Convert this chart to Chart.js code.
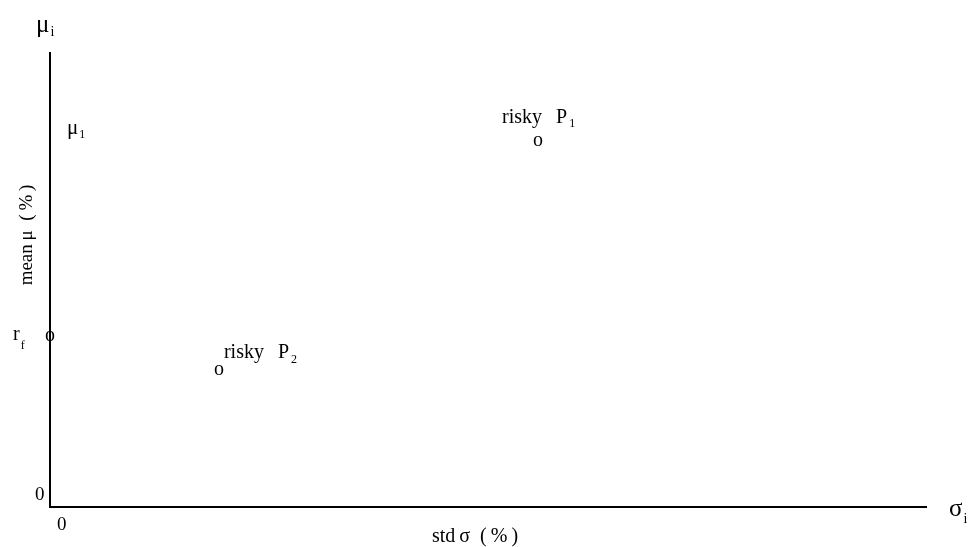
<!DOCTYPE html>
<html>
<head>
<meta charset="utf-8">
<script src="https://cdn.jsdelivr.net/npm/chart.js@4.4.0/dist/chart.umd.min.js"></script>
<style>
  html, body { margin: 0; padding: 0; background: #fff; }
  #wrap { width: 974px; height: 547px; }
</style>
</head>
<body>
<div id="wrap"><canvas id="chart" width="974" height="547"></canvas></div>
<script>
// portfolio points (std %, mean %)
var pointNames = ['risky P', 'risky P', 'r'];
var pointSubs = ['1', '2', 'f'];
var stdValues = [19.5, 6.75, 0];
var meanValues = [16.1, 6.0, 7.5];

// axis ranges and tick labels
var xRange = [0, 35];
var yRange = [0, 20];
var xTickLabels = ['0'];
var yTickLabels = ['0'];

var serif = '"Liberation Serif", "Times New Roman", serif';

// write text with a lowered subscript
function subText(ctx, main, sub, x, y, size, subSize, drop, gap) {
  ctx.font = size + 'px ' + serif;
  ctx.fillText(main, x, y);
  var w = ctx.measureText(main).width;
  ctx.font = subSize + 'px ' + serif;
  ctx.fillText(sub, x + w + (gap || 1), y + drop);
}

var labelsPlugin = {
  id: 'labels',
  afterDatasetsDraw: function(chart) {
    var ctx = chart.ctx;
    var xs = chart.scales.x, ys = chart.scales.y;
    var meta = chart.getDatasetMeta(0);
    ctx.save();
    ctx.fillStyle = '#000';

    // point markers drawn as "o"
    ctx.font = '20px ' + serif;
    ctx.textAlign = 'center';
    ctx.textBaseline = 'middle';
    meta.data.forEach(function(el) {
      ctx.fillText('o', el.x, el.y - 1);
    });
    ctx.textAlign = 'left';
    ctx.textBaseline = 'alphabetic';

    var p1 = meta.data[0], p2 = meta.data[1], rf = meta.data[2];
    // risky P1 label above its point
    ctx.font = '20px ' + serif;
    ctx.fillText('risky', p1.x - 36, p1.y - 19);
    subText(ctx, 'P', pointSubs[0], p1.x + 18, p1.y - 19, 20, 12, 4, 2);
    // risky P2 label to the upper right
    ctx.font = '20px ' + serif;
    ctx.fillText('risky', p2.x + 5, p2.y - 13);
    subText(ctx, 'P', pointSubs[1], p2.x + 59, p2.y - 13, 20, 12, 5, 2);
    // r_f to the left of the y axis
    subText(ctx, pointNames[2], pointSubs[2], rf.x - 37, rf.y + 3, 20, 12, 9, 1);
    // mu_1 marked at P1's mean
    subText(ctx, '\u03bc', '1', xs.left + 17, p1.y - 8, 21, 12, 4, 1);

    // tick labels at zero
    ctx.font = '19px ' + serif;
    ctx.fillText(yTickLabels[0], xs.left - 15, ys.getPixelForValue(0) - 7);
    ctx.fillText(xTickLabels[0], xs.getPixelForValue(0) + 7, ys.bottom + 23);

    // axis end symbols
    subText(ctx, '\u03bc', 'i', xs.left - 14, 32, 25, 14, 4, 1);
    subText(ctx, '\u03c3', 'i', xs.right + 23, ys.bottom + 9, 25, 14, 7, 1);

    // axis titles
    ctx.font = '20px ' + serif;
    ctx.textAlign = 'center';
    ctx.fillText('std\u2009\u03c3\u2002(\u2009%\u2009)', 475, 542);
    ctx.font = '19px ' + serif;
    ctx.save();
    ctx.translate(32, 235);
    ctx.rotate(-Math.PI / 2);
    ctx.fillText('mean\u2009\u03bc\u2002(\u2009%\u2009)', 0, 0);
    ctx.restore();

    ctx.restore();
  }
};

var ctx = document.getElementById('chart').getContext('2d');
var chart = new Chart(ctx, {
  type: 'scatter',
  data: {
    datasets: [{
      data: stdValues.map(function(v, i) { return { x: v, y: meanValues[i] }; }),
      pointRadius: 0,
      pointHoverRadius: 0,
      clip: false
    }]
  },
  options: {
    responsive: false,
    animation: false,
    events: [],
    layout: { padding: { left: 50, right: 48, top: 53, bottom: 40 } },
    plugins: { legend: { display: false }, tooltip: { enabled: false } },
    scales: {
      x: {
        min: xRange[0], max: xRange[1],
        grid: { display: false, drawTicks: false },
        border: { display: true, color: '#000', width: 2 },
        ticks: { display: false },
        afterFit: function(s) { s.height = 0; }
      },
      y: {
        min: yRange[0], max: yRange[1],
        grid: { display: false, drawTicks: false },
        border: { display: true, color: '#000', width: 2 },
        ticks: { display: false },
        afterFit: function(s) { s.width = 0; }
      }
    }
  },
  plugins: [labelsPlugin]
});
</script>
</body>
</html>
